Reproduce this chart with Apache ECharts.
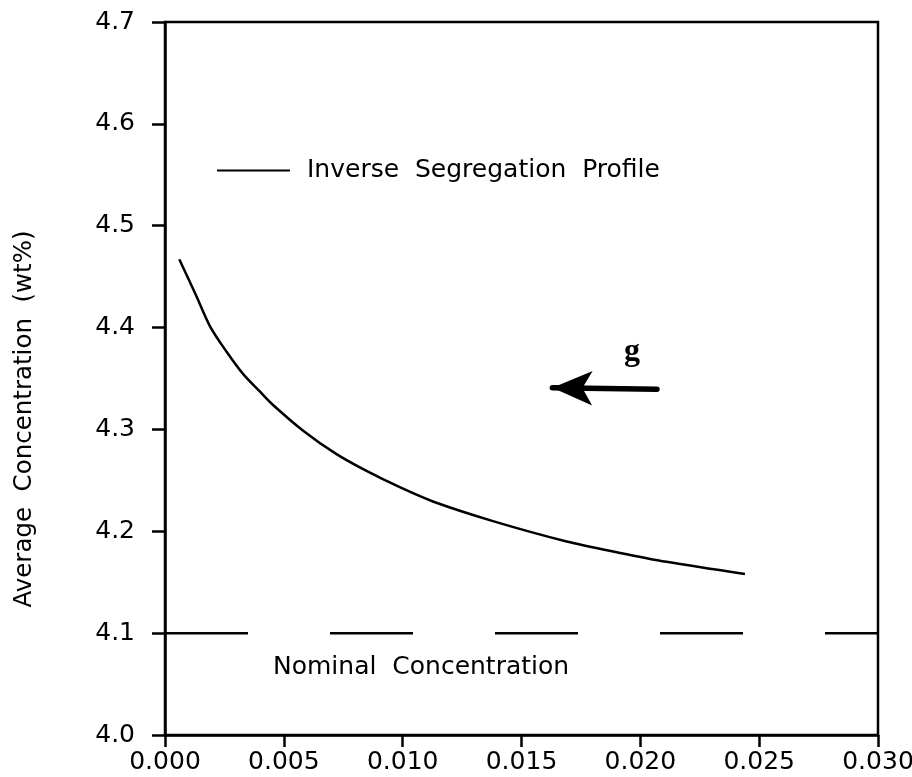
<!DOCTYPE html>
<html>
<head>
<meta charset="utf-8">
<script src="https://cdn.jsdelivr.net/npm/echarts@6/dist/echarts.min.js"></script>
<style>html,body{margin:0;padding:0;background:#fff;}#c{width:912px;height:777px;}</style>
</head>
<body>
<div id="c"></div>
<script>
// Data
var profileX = [0.0006, 0.0013, 0.0019, 0.0026, 0.0033, 0.0040, 0.0045, 0.0058, 0.0072, 0.0085, 0.0099, 0.0113, 0.0138, 0.0169, 0.0191, 0.0211, 0.0244];
var profileY = [4.467, 4.432, 4.401, 4.376, 4.354, 4.337, 4.325, 4.299, 4.276, 4.259, 4.243, 4.229, 4.210, 4.190, 4.179, 4.170, 4.158];
var nominalX = [0, 0.03];
var nominalY = [4.1, 4.1];
var arrowFrom = [0.0207, 4.3395];
var arrowTo = [0.0163, 4.341];
var xTicks = ['0.000', '0.005', '0.010', '0.015', '0.020', '0.025', '0.030'];
var yTicks = ['4.0', '4.1', '4.2', '4.3', '4.4', '4.5', '4.6', '4.7'];
var profileName = 'Inverse  Segregation  Profile';
var nominalName = 'Nominal  Concentration';
var yTitle = 'Average  Concentration  (wt%)';

var FONT = 'DejaVu Sans';
var chart = echarts.init(document.getElementById('c'), null, {renderer: 'canvas'});
var profileData = profileX.map(function (x, i) { return [x, profileY[i]]; });
var nominalData = nominalX.map(function (x, i) { return [x, nominalY[i]]; });

chart.setOption({
  backgroundColor: '#fff',
  animation: false,
  grid: {left: 165, right: 34, top: 22, bottom: 42, containLabel: false, outerBoundsMode: 'none',
    show: true, borderColor: '#000', borderWidth: 2.5, backgroundColor: 'transparent'},
  legend: {
    left: 217, top: 158, padding: 0,
    data: [{name: profileName, icon: 'rect'}],
    itemWidth: 73, itemHeight: 2,
    textStyle: {fontFamily: FONT, fontSize: 25, color: '#000', padding: [0, 0, 0, 12]}
  },
  xAxis: {
    type: 'value', min: 0, max: 0.03, interval: 0.005,
    axisLine: {show: true, onZero: false, lineStyle: {color: '#000', width: 2.5}},
    axisTick: {show: true, inside: false, length: 12, lineStyle: {color: '#000', width: 2.5}},
    axisLabel: {fontFamily: FONT, fontSize: 25, color: '#000', margin: 15,
      formatter: function (v) { return xTicks[Math.round(v / 0.005)]; }},
    splitLine: {show: false}
  },
  yAxis: {
    type: 'value', min: 4.0, max: 4.7, interval: 0.1,
    axisLine: {show: true, onZero: false, lineStyle: {color: '#000', width: 2.5}},
    axisTick: {show: true, inside: false, length: 13, lineStyle: {color: '#000', width: 2.5}},
    axisLabel: {fontFamily: FONT, fontSize: 25, color: '#000', margin: 30,
      formatter: function (v) { return yTicks[Math.round((v - 4.0) / 0.1)]; }},
    splitLine: {show: false}
  },
  graphic: [
    {type: 'text', x: 25, y: 419, rotation: Math.PI / 2,
      style: {text: yTitle, font: '24.5px "' + FONT + '"', fill: '#000', textAlign: 'center', textVerticalAlign: 'middle'}},
    {type: 'text', left: 273, top: 655,
      style: {text: nominalName, font: '25px "' + FONT + '"', fill: '#000'}},
    {type: 'text', left: 624, top: 336,
      style: {text: 'g', font: 'bold 32px "Liberation Serif"', fill: '#000'}}
  ],
  series: [
    {
      name: profileName, type: 'line', data: profileData, smooth: 0.3, showSymbol: false,
      lineStyle: {color: '#000', width: 2.5}, itemStyle: {color: '#000'},
      markLine: {
        silent: true, animation: false,
        symbol: ['none', 'arrow'], symbolSize: [26, 40],
        lineStyle: {color: '#000', width: 5.5, type: 'solid', cap: 'round'},
        label: {show: false},
        data: [[{coord: arrowFrom}, {coord: arrowTo}]]
      }
    },
    {
      name: nominalName, type: 'line', data: nominalData, showSymbol: false,
      lineStyle: {color: '#000', width: 2.5, type: [83, 82]}
    }
  ]
});
</script>
</body>
</html>
